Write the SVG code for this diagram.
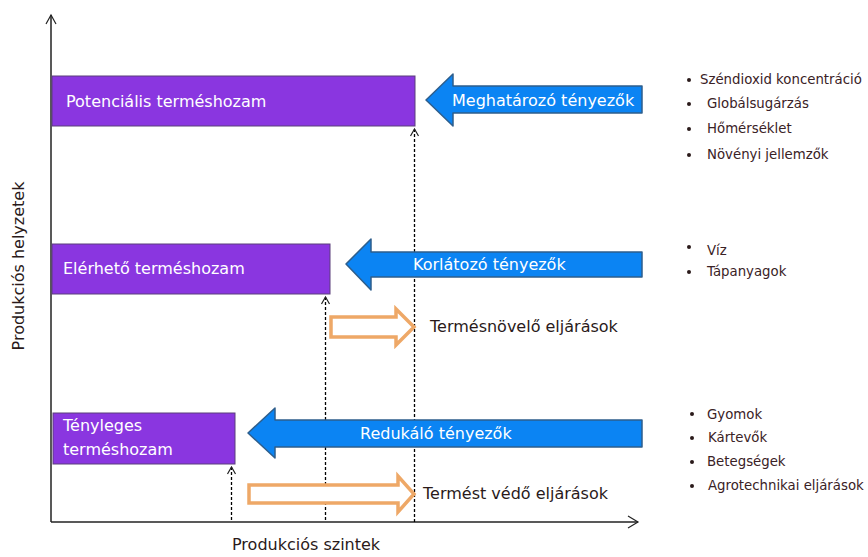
<svg xmlns="http://www.w3.org/2000/svg" width="868" height="557" viewBox="0 0 868 557">
<defs>
<style>
.box{fill:#8a36e0;stroke:#5b3f7a;stroke-width:1}
.blue{fill:#0b84f3;stroke:#2e5e8c;stroke-width:1.5;stroke-linejoin:round}
.orange{fill:#ffffff;stroke:#eea867;stroke-width:3.5;stroke-linejoin:miter}
.wt{font-family:"DejaVu Sans",Verdana,sans-serif;font-size:16px;fill:#ffffff}
.dt{font-family:"DejaVu Sans",Verdana,sans-serif;font-size:16px;fill:#2a1a1a}
.lt{font-family:"DejaVu Sans",Verdana,sans-serif;font-size:13.3px;fill:#3a2226}
.ax{stroke:#222;stroke-width:1.5;fill:none}
.dot{stroke:#000;stroke-width:1.3;stroke-dasharray:3 2;fill:none}
.chev{stroke:#222;stroke-width:1.2;fill:none}
.bul{fill:#2a1a1a}
</style>
</defs>
<rect width="868" height="557" fill="#ffffff"/>

<g id="connectors">
<line class="ax" x1="51" y1="15" x2="51" y2="522"/>
<polyline class="chev" points="46,24 51,15 56,24" stroke-width="1.5"/>
<line class="ax" x1="51" y1="522" x2="638" y2="522"/>
<polyline class="chev" points="628,516 638,522 628,528" stroke-width="1.5"/>
<line class="dot" x1="414.5" y1="129" x2="414.5" y2="522"/>
<polyline class="chev" points="410.5,136 414.5,129 418.5,136"/>
<line class="dot" x1="325.5" y1="297" x2="325.5" y2="522"/>
<polyline class="chev" points="321.5,304 325.5,297 329.5,304"/>
<line class="dot" x1="231.5" y1="467" x2="231.5" y2="522"/>
<polyline class="chev" points="227.5,474 231.5,467 235.5,474"/>
</g>

<g id="potencialis">
<rect class="box" x="52" y="76" width="363" height="50"/>
<text class="wt" x="66" y="107">Potenciális terméshozam</text>
</g>
<g id="elerheto">
<rect class="box" x="52" y="244" width="278" height="50"/>
<text class="wt" x="63" y="274">Elérhető terméshozam</text>
</g>
<g id="tenyleges">
<rect class="box" x="53" y="413" width="182" height="51"/>
<text class="wt" x="63" y="431">Tényleges</text>
<text class="wt" x="63" y="455">terméshozam</text>
</g>

<g id="meghatarozo">
<polygon class="blue" points="426,100 453,74 453,86 642,86 642,113 453,113 453,126"/>
<text class="wt" x="452" y="106">Meghatározó tényezők</text>
</g>
<g id="korlatozo">
<polygon class="blue" points="346,264 371,239 371,252 642,252 642,277 371,277 371,290"/>
<text class="wt" x="413" y="270">Korlátozó tényezők</text>
</g>
<g id="redukalo">
<polygon class="blue" points="248,433 275,408 275,420 642,420 642,447 275,447 275,458"/>
<text class="wt" x="360" y="439">Redukáló tényezők</text>
</g>

<g id="termesnovelo">
<polygon class="orange" points="331,317 396,317 396,309 414,327 396,345 396,337 331,337"/>
<text class="dt" x="430" y="332">Termésnövelő eljárások</text>
</g>
<g id="termestvedo">
<polygon class="orange" points="249,485 398,485 398,476 414,494 398,512 398,503 249,503"/>
<text class="dt" x="423" y="499">Termést védő eljárások</text>
</g>

<g id="axis-labels">
<text class="dt" x="232" y="550">Produkciós szintek</text>
<text class="dt" transform="translate(24,266) rotate(-90)" text-anchor="middle" font-size="16.5">Produkciós helyzetek</text>
</g>

<g id="list-meghatarozo">
<circle class="bul" cx="689" cy="80" r="2"/>
<text class="lt" x="700" y="84">Széndioxid koncentráció</text>
<circle class="bul" cx="689" cy="104" r="2"/>
<text class="lt" x="707" y="108">Globálsugárzás</text>
<circle class="bul" cx="689" cy="129" r="2"/>
<text class="lt" x="707" y="133">Hőmérséklet</text>
<circle class="bul" cx="689" cy="155" r="2"/>
<text class="lt" x="707" y="159">Növényi jellemzők</text>
</g>
<g id="list-korlatozo">
<circle class="bul" cx="689" cy="247" r="2"/>
<text class="lt" x="707" y="255">Víz</text>
<circle class="bul" cx="689" cy="272" r="2"/>
<text class="lt" x="707" y="276">Tápanyagok</text>
</g>
<g id="list-redukalo">
<circle class="bul" cx="692" cy="414" r="2"/>
<text class="lt" x="707" y="419">Gyomok</text>
<circle class="bul" cx="692" cy="438" r="2"/>
<text class="lt" x="708" y="442">Kártevők</text>
<circle class="bul" cx="692" cy="462" r="2"/>
<text class="lt" x="707" y="466">Betegségek</text>
<circle class="bul" cx="692" cy="486" r="2"/>
<text class="lt" x="708" y="490">Agrotechnikai eljárások</text>
</g>
</svg>
